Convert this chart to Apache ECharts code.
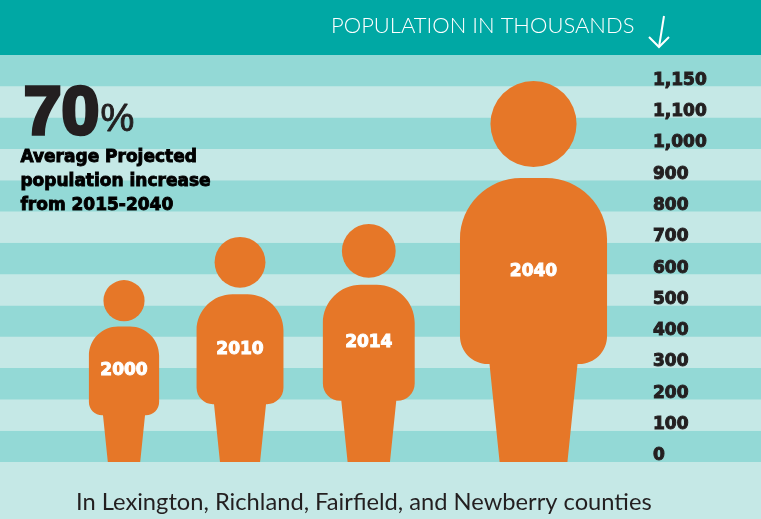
<!DOCTYPE html>
<html><head><meta charset="utf-8">
<style>html,body{margin:0;padding:0;background:#c5e8e6}#c{width:761px;height:519px}</style>
<script src="https://cdn.jsdelivr.net/npm/echarts@6/dist/echarts.min.js"></script>
</head><body><div id="c"></div>
<script>
const years = ['2000','2010','2014','2040'];
const population = [581, 719, 760, 1217];
const figureSlots = [1, 2, 3.11, 4.53];
const tickLabels = ['0','100','200','300','400','500','600','700','800','900','1,000','1,100','1,150'];
const headerText = 'POPULATION IN THOUSANDS';
const footerText = 'In Lexington, Richland, Fairfield, and Newberry counties';
const calloutLines = ['Average Projected','population increase','from 2015-2040'];

const ORANGE='#e67728', INK='#231f20', WHITE='#fff';
const heavy='"DejaVu Sans"';

function person(params, api){
  const cx = api.coord([api.value(0), 0])[0];
  const base = api.coord([0, 0])[1];
  const top = api.coord([0, api.value(1)])[1];
  const h = base - top;
  const Y = f => top + f*h, X = f => cx + f*h;
  const bw=.193, bt=.2546, bb=.743, rt=.16, rb=.073, lt=.1155, lb=.089, k=.55;
  const path = [
    'M',X(-bw+rt),Y(bt),'L',X(bw-rt),Y(bt),
    'C',X(bw-rt+rt*k),Y(bt),X(bw),Y(bt+rt-rt*k),X(bw),Y(bt+rt),
    'L',X(bw),Y(bb-rb),
    'C',X(bw),Y(bb-rb+rb*k),X(bw-rb+rb*k),Y(bb),X(bw-rb),Y(bb),
    'L',X(lt),Y(bb),'L',X(lb),Y(1),'L',X(-lb),Y(1),'L',X(-lt),Y(bb),
    'L',X(-bw+rb),Y(bb),
    'C',X(-bw+rb-rb*k),Y(bb),X(-bw),Y(bb-rb+rb*k),X(-bw),Y(bb-rb),
    'L',X(-bw),Y(bt+rt),
    'C',X(-bw),Y(bt+rt-rt*k),X(-bw+rt-rt*k),Y(bt),X(-bw+rt),Y(bt),'Z'
  ].join(' ');
  return {type:'group',children:[
    {type:'circle',shape:{cx:cx,cy:Y(.113),r:.113*h},style:{fill:ORANGE}},
    {type:'path',shape:{pathData:path},style:{fill:ORANGE}},
    {type:'text',x:cx,y:Y(.5),style:{text:years[params.dataIndex],fill:WHITE,stroke:WHITE,lineWidth:1,
      font:'bold 17px '+heavy,align:'center',verticalAlign:'middle'}}
  ]};
}

const chart = echarts.init(document.getElementById('c'),null,{renderer:'canvas'});
chart.setOption({
  animation:false,
  backgroundColor:'#c5e8e6',
  grid:{left:0,right:0,top:55,bottom:57,containLabel:false},
  xAxis:{type:'value',min:-0.069,max:6.491,show:false},
  yAxis:{type:'value',min:0,max:1300,interval:100,position:'right',
    axisLine:{show:false},axisTick:{show:false},splitLine:{show:false},
    splitArea:{show:true,areaStyle:{color:['#93d9d6','#c5e8e6']}},
    axisLabel:{inside:true,margin:108,align:'left',verticalAlign:'bottom',lineHeight:12,
      color:INK,fontFamily:heavy,fontWeight:'bold',fontSize:17,textBorderColor:INK,textBorderWidth:1,
      showMaxLabel:true,
      formatter:v=>tickLabels[Math.round(v/100)]||''}},
  series:[{type:'custom',renderItem:person,clip:false,silent:true,z:3,
    encode:{x:0,y:1},data:population.map((p,i)=>[figureSlots[i],p])}],
  graphic:[
    {type:'rect',z:20,left:0,top:0,shape:{width:761,height:55},style:{fill:'#00a8a4'}},
    {type:'text',z:21,left:331,top:15,style:{text:headerText,fill:WHITE,font:'300 22px Lato'}},
    {type:'polyline',z:21,shape:{points:[[664,16],[659,47]]},style:{stroke:WHITE,lineWidth:2,fill:'none'}},
    {type:'polyline',z:21,shape:{points:[[649,37],[659,47],[669,37]]},style:{stroke:WHITE,lineWidth:2,fill:'none'}},
    {type:'text',z:21,left:22,top:79,style:{text:'70',fill:INK,stroke:INK,lineWidth:3.5,font:'bold 68px "Liberation Sans"'}},
    {type:'text',z:21,left:100,top:101,style:{text:'%',fill:INK,stroke:INK,lineWidth:.9,font:'38px "Liberation Sans"'}},
    {type:'text',z:21,left:20,top:146,style:{text:calloutLines.join('\n'),fill:'#000',stroke:'#000',lineWidth:.9,
      font:'bold 17px '+heavy,lineHeight:24}},
    {type:'text',z:21,left:76,top:490,style:{text:footerText,fill:INK,font:'23.7px Lato'}}
  ]
});
</script></body></html>
